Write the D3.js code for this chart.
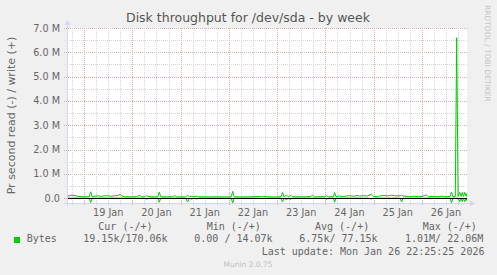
<!DOCTYPE html>
<html><head><meta charset="utf-8">
<script src="https://cdn.jsdelivr.net/npm/d3@7"></script>
<style>html,body{margin:0;padding:0;background:#f0f0f0;overflow:hidden}svg{display:block}</style>
</head><body><svg id="c" width="497" height="275"></svg>
<script>
// ---- data (hours relative to 19 Jan 00:00, values in kB/s) ----
const hours = [-8.5,-7,-5,-3.5,-1,1,2.5,3.3,4.0,5,7,8,10,12,13,15,17,17.8,18.8,20,23,26,27.7,28.7,30,31.2,32.2,35,36.7,37.4,38.1,41,44,45.1,46,50.5,51.5,52.4,53.5,54.5,56,57,62,66,70,73.2,73.9,74.6,79,83,87.3,88.5,90,90.8,95,98,98.7,99.4,100.7,101.6,102.6,103.7,108,112.5,113.6,114.6,119.6,120.5,121.5,124,124.6,125.3,127,129,130.5,132,134,136,137,139,141,142.9,144,146,147,149,151,153,155,157.2,157.9,158.6,161.8,164,166,168,170.3,171.3,174,176,178,180,182,182.7,183.4,184.6,185.3,186.0,186.8,187.5,188.1,188.7,189.3,190.0,190.4];
const writeK = [70,110,120,80,60,55,60,260,60,80,95,70,90,100,75,95,110,160,90,60,55,60,110,55,60,100,60,55,60,250,60,55,60,100,55,50,120,55,80,55,80,55,50,55,50,55,280,55,50,55,70,50,75,55,50,60,230,55,120,60,110,60,55,60,120,55,60,100,55,60,230,60,90,60,90,100,80,110,85,100,90,160,70,60,90,110,95,120,90,100,130,90,60,80,60,70,130,60,70,55,80,60,70,250,60,70,6600,80,240,70,240,70,240,70,200];
const readK = [0,0,0,0,0,0,0,180,0,0,0,0,0,0,0,0,0,0,0,0,0,0,0,0,0,40,0,0,0,170,0,0,0,0,0,0,160,0,40,0,30,0,0,0,0,0,200,0,0,0,0,20,0,0,0,0,160,0,60,0,50,0,0,0,0,0,0,50,0,0,170,0,0,0,0,0,0,0,0,0,0,30,0,0,0,0,0,0,0,0,160,0,0,0,0,0,0,0,0,0,0,0,0,190,0,0,0,0,150,0,150,0,150,0,120];
const yTickValues = [0,1,2,3,4,5,6,7];            // millions
const yTickLabels = ["0.0","1.0 M","2.0 M","3.0 M","4.0 M","5.0 M","6.0 M","7.0 M"];
const dayLabels = ["19 Jan","20 Jan","21 Jan","22 Jan","23 Jan","24 Jan","25 Jan","26 Jan"];
const legendHeaders = ["Cur (-/+)","Min (-/+)","Avg (-/+)","Max (-/+)"];
const legendValues = ["19.15k/170.06k","0.00 / 14.07k","6.75k/ 77.15k","1.01M/ 22.06M"];
const seriesName = "Bytes";
const lastUpdate = "Last update: Mon Jan 26 22:25:25 2026";

// ---- setup ----
const svg = d3.select("#c");
const T0 = Date.UTC(2026,0,19);
const toDate = h => new Date(T0 + h*3600e3);
const L=67, R=467, TOP=28, BOT=203;
const x = d3.scaleUtc().domain([toDate(-8.5), new Date(Date.UTC(2026,0,26,22,25,25))]).range([L,R]);
const y = d3.scaleLinear().domain([-0.2e6, 7e6]).range([BOT,TOP]);
const sans = "'DejaVu Sans', sans-serif", mono = "'DejaVu Sans Mono', monospace";

svg.append("rect").attr("width",497).attr("height",275).attr("fill","#f0f0f0");
svg.append("rect").attr("x",L).attr("y",TOP).attr("width",R-L).attr("height",BOT-TOP).attr("fill","#fff");

const minorC = "rgb(212,212,212)", majorC = "rgb(222,170,170)";
// horizontal grid
const g = svg.append("g").attr("shape-rendering","crispEdges");
d3.range(0.5,7,1).forEach(v=>{
  g.append("line").attr("x1",L-2).attr("x2",R).attr("y1",Math.round(y(v*1e6))+0.5).attr("y2",Math.round(y(v*1e6))+0.5)
   .attr("stroke",minorC).attr("stroke-dasharray","1,1");
});
yTickValues.forEach(v=>{
  g.append("line").attr("x1",L-3).attr("x2",R).attr("y1",Math.round(y(v*1e6))+0.5).attr("y2",Math.round(y(v*1e6))+0.5)
   .attr("stroke",majorC).attr("stroke-dasharray","1,1");
});
// vertical grid
x.ticks(d3.utcHour.every(6)).filter(d=>d.getUTCHours()!==0).forEach(d=>{
  const xx=Math.round(x(d))+0.5;
  g.append("line").attr("x1",xx).attr("x2",xx).attr("y1",TOP).attr("y2",BOT+2).attr("stroke",minorC).attr("stroke-dasharray","1,1");
});
x.ticks(d3.utcDay.every(1)).forEach(d=>{
  const xx=Math.round(x(d))+0.5;
  g.append("line").attr("x1",xx).attr("x2",xx).attr("y1",TOP).attr("y2",BOT+3).attr("stroke",majorC).attr("stroke-dasharray","1,1");
});

// data lines
const clip = svg.append("clipPath").attr("id","pc").append("rect").attr("x",L).attr("y",TOP-1).attr("width",R-L).attr("height",BOT-TOP+1);
const line = d3.line().x(d=>x(toDate(d[0]))).y(d=>y(d[1]));
const wData = hours.map((h,i)=>[h, writeK[i]*1000]);
const rData = hours.map((h,i)=>[h, -readK[i]*1000]);
const lg = svg.append("g").attr("clip-path","url(#pc)");
lg.append("path").attr("d",line(rData)).attr("fill","none").attr("stroke","#00cc00").attr("stroke-width",1);
lg.append("path").attr("d",line(wData)).attr("fill","none").attr("stroke","#00cc00").attr("stroke-width",1);
// zero line
svg.append("line").attr("x1",L).attr("x2",R).attr("y1",Math.round(y(0))+0.5).attr("y2",Math.round(y(0))+0.5)
  .attr("stroke","#000").attr("shape-rendering","crispEdges");

// axes
const axC="#cfd6f8";
svg.append("line").attr("x1",L-3).attr("x2",R+4).attr("y1",BOT+0.5).attr("y2",BOT+0.5).attr("stroke",axC).attr("shape-rendering","crispEdges");
svg.append("path").attr("d",`M${R+3},${BOT-2.5}L${R+8},${BOT+0.5}L${R+3},${BOT+3.5}Z`).attr("fill",axC);
svg.append("line").attr("x1",L+0.5).attr("x2",L+0.5).attr("y1",BOT+3).attr("y2",TOP-4).attr("stroke",axC).attr("shape-rendering","crispEdges");
svg.append("path").attr("d",`M${L-2.5},${TOP-3}L${L+0.5},${TOP-8}L${L+3.5},${TOP-3}Z`).attr("fill",axC);

// y tick labels
yTickValues.forEach((v,i)=>{
  svg.append("text").attr("x",60).attr("y",y(v*1e6)+3.5).attr("text-anchor","end")
    .attr("font-family",sans).attr("font-size",9.7).attr("fill","#666").text(yTickLabels[i]);
});
// x labels at noon
dayLabels.forEach((lab,i)=>{
  const d = toDate(12 + 24*i);
  svg.append("text").attr("x",x(d)).attr("y",216).attr("text-anchor","middle")
    .attr("font-family",sans).attr("font-size",9.7).attr("fill","#666").text(lab);
});

// title
svg.append("text").attr("x",248).attr("y",22).attr("text-anchor","middle").attr("font-family",sans)
  .attr("font-size",12.5).attr("fill","#555").text("Disk throughput for /dev/sda - by week");
// y axis title
svg.append("text").attr("transform",`translate(14.5,${(TOP+BOT)/2}) rotate(-90)`).attr("text-anchor","middle")
  .attr("font-family",sans).attr("font-size",11).attr("fill","#666").text("Pr second read (-) / write (+)");
// rrdtool watermark
svg.append("text").attr("transform","translate(485,5) rotate(90)").attr("text-anchor","start")
  .attr("font-family",sans).attr("font-size",7.5).attr("fill","#c4c4c4").text("RRDTOOL / TOBI OETIKER");

// legend
const hx=[98.3,206.7,315,422.7], vx=[83.3,194.3,299.3,405];
legendHeaders.forEach((t,i)=>svg.append("text").attr("x",hx[i]).attr("y",230).attr("font-family",mono).attr("font-size",10).attr("fill","#666").attr("xml:space","preserve").style("white-space","pre").text(t));
legendValues.forEach((t,i)=>svg.append("text").attr("x",vx[i]).attr("y",242).attr("font-family",mono).attr("font-size",10).attr("fill","#666").style("white-space","pre").text(t));
svg.append("rect").attr("x",14).attr("y",237).attr("width",6).attr("height",6).attr("fill","#00cc00");
svg.append("text").attr("x",26.7).attr("y",242).attr("font-family",mono).attr("font-size",10).attr("fill","#666").text(seriesName);
svg.append("text").attr("x",261.7).attr("y",255).attr("font-family",mono).attr("font-size",10).attr("fill","#666").text(lastUpdate);
svg.append("text").attr("x",248).attr("y",267).attr("text-anchor","middle").attr("font-family",sans).attr("font-size",7.5).attr("fill","#c0c0c0").text("Munin 2.0.75");
</script></body></html>
